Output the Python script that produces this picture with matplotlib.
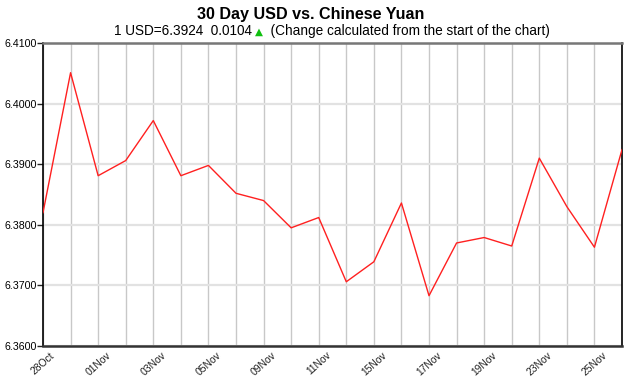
import matplotlib
matplotlib.use("Agg")
import matplotlib.pyplot as plt

plt.rcParams['font.family'] = ['Liberation Sans', 'DejaVu Sans']

# 30 trading days of USD/CNY closes
dates = ['28Oct', '29Oct', '01Nov', '02Nov', '03Nov', '04Nov', '05Nov', '08Nov',
         '09Nov', '10Nov', '11Nov', '12Nov', '15Nov', '16Nov', '17Nov', '18Nov',
         '19Nov', '22Nov', '23Nov', '24Nov', '25Nov', '26Nov']
rates = [6.3820, 6.4051, 6.3881, 6.3906, 6.3972, 6.3881, 6.3898, 6.3852,
         6.3840, 6.3795, 6.3812, 6.3706, 6.3739, 6.3836, 6.3683, 6.3770,
         6.3779, 6.3765, 6.3910, 6.3830, 6.3763, 6.3924]
label_every = 2
y_ticks = [6.3600, 6.3700, 6.3800, 6.3900, 6.4000, 6.4100]

title = '30 Day USD vs. Chinese Yuan'
sub_left = '1 USD=6.3924  0.0104 '
sub_right = '  (Change calculated from the start of the chart)'

W, H = 630, 378
fig = plt.figure(figsize=(W / 100, H / 100), dpi=100)
ax = fig.add_axes([43 / W, 1 - 346 / H, (622 - 43) / W, (346 - 43) / H])

x = list(range(len(dates)))
ax.plot(x, rates, color='#ff2020', lw=1.0, zorder=3)

ax.set_xlim(0, len(dates) - 1)
ax.set_ylim(y_ticks[0], y_ticks[-1])
ax.set_yticks(y_ticks)
ax.set_yticklabels([f'{v:.4f}' for v in y_ticks])
ax.set_xticks(x, minor=True)
ax.set_xticks(x[::label_every])
ax.set_xticklabels(dates[::label_every], rotation=42, ha='center', va='top')

ax.grid(axis='x', which='both', color='#c8c8c8', lw=1.0, zorder=0)
ax.grid(axis='y', color='#e2e2e2', lw=1.6, zorder=0)
ax.tick_params(axis='y', length=4, width=1, labelsize=7.7, pad=0.5,
               colors='#222222', labelcolor='black')
ax.tick_params(axis='x', which='both', length=0, labelsize=7.4, pad=3,
               labelcolor='#222222')

ax.spines['left'].set_color('black')
ax.spines['left'].set_linewidth(1.2)
ax.spines['bottom'].set_color('#333333')
ax.spines['bottom'].set_linewidth(1.8)
ax.spines['top'].set_color('#777777')
ax.spines['top'].set_linewidth(1.8)
ax.spines['right'].set_color('black')
ax.spines['right'].set_linewidth(1.2)

fig.text(311 / W, 1 - 15 / H, title, ha='center', va='center', fontsize=11.6,
         fontweight='bold')

# subtitle: text, green triangle, text -- laid out side by side
sub_y = 1 - 31 / H
t1 = fig.text(0, sub_y, sub_left, ha='left', va='center', fontsize=9.8)
t2 = fig.text(0, sub_y - 1 / H, '\u25b2', ha='left', va='center', fontsize=7.5,
              color='#10c010', family=['DejaVu Sans'])
t3 = fig.text(0, sub_y, sub_right, ha='left', va='center', fontsize=9.8)
r = fig.canvas.get_renderer()
widths = [t.get_window_extent(r).width for t in (t1, t2, t3)]
start = 332 - sum(widths) / 2
for t, w in zip((t1, t2, t3), widths):
    t.set_x(start / W)
    start += w

fig.savefig('out.png', dpi=100)
